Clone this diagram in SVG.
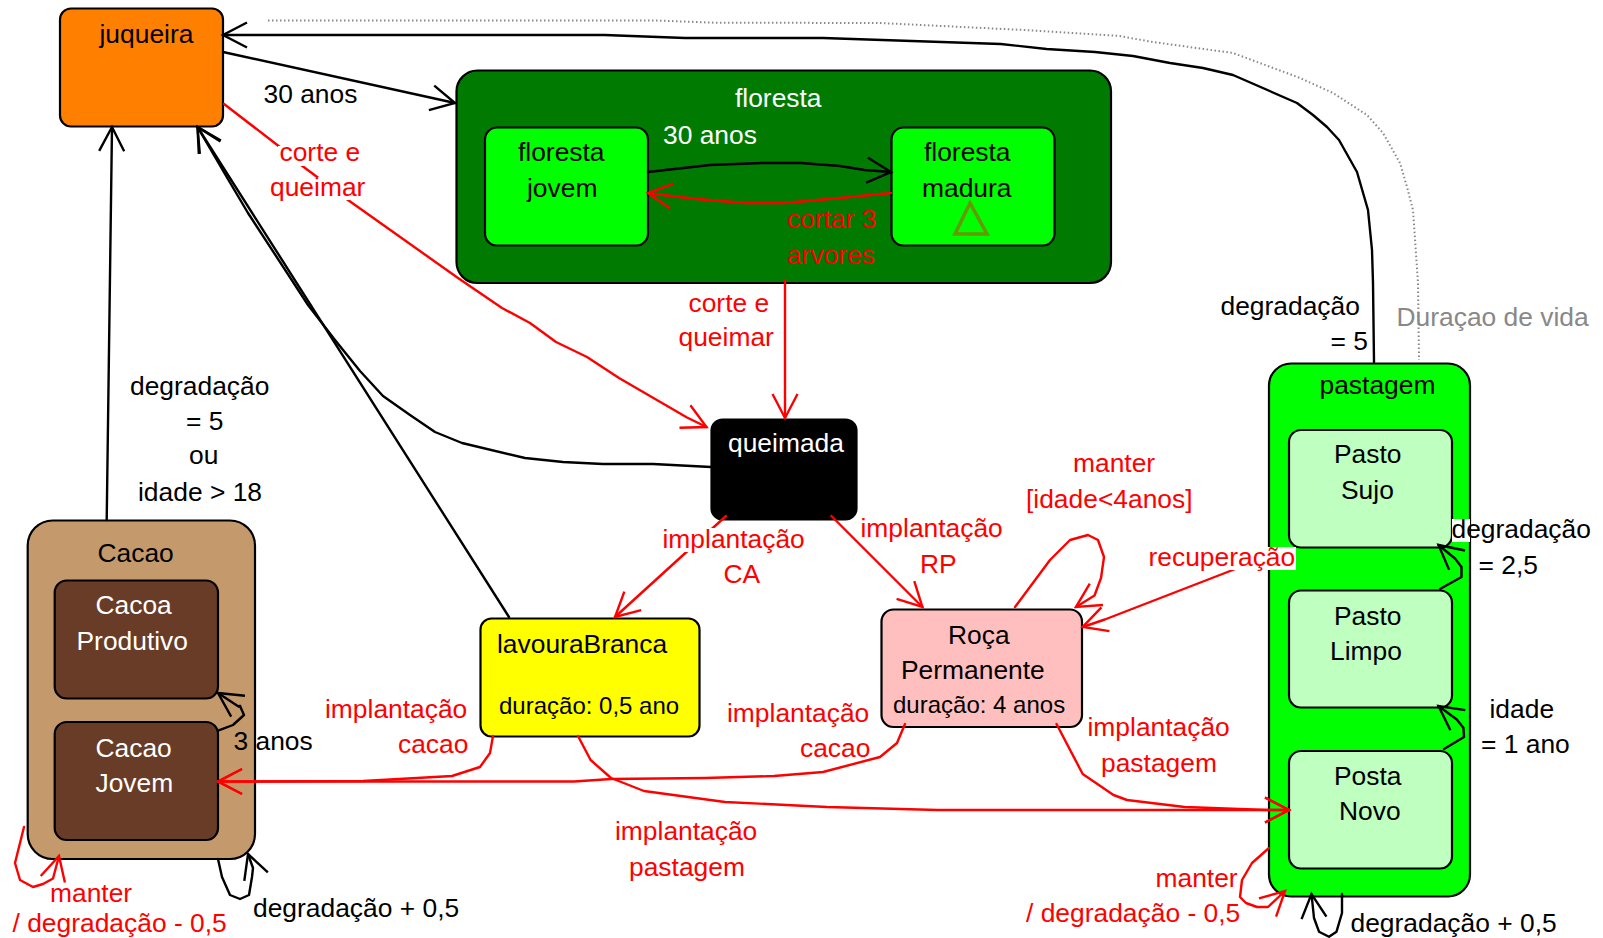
<svg xmlns="http://www.w3.org/2000/svg" width="1603" height="938" viewBox="0 0 1603 938">
<style>
text{font-family:"Liberation Sans",Arial,sans-serif;font-size:26.4px;fill:#000}
.n{stroke:#000;stroke-width:2.2}
.w{fill:#fff}.r{fill:#f00}.g{fill:#888}.s{font-size:24px}
.c{fill:none;stroke-width:2.4;stroke-linejoin:round;stroke-linecap:round}
.b{stroke:#000;marker-end:url(#ab)}
.d{stroke:#f00;marker-end:url(#ar)}
.p{stroke:#000}.q{stroke:#f00}
.dot{fill:none;stroke:#888;stroke-width:2;stroke-dasharray:1.5 2.5}
.bg{fill:#fff;stroke:none}
</style>
<defs>
<marker id="ab" markerUnits="userSpaceOnUse" viewBox="-30 -16 34 32" markerWidth="34" markerHeight="32" refX="0" refY="0" orient="auto"><path d="M-24-12.500L0 0L-24 12.500" fill="none" stroke="#000" stroke-width="2.400"/></marker>
<marker id="ar" markerUnits="userSpaceOnUse" viewBox="-30 -16 34 32" markerWidth="34" markerHeight="32" refX="0" refY="0" orient="auto"><path d="M-24-12.500L0 0L-24 12.500" fill="none" stroke="#f00" stroke-width="2.400"/></marker>
</defs>

<g id="juqueira"><rect class="n" x="60" y="8.500" width="163" height="118" rx="11" fill="#ff8000"/><text x="99.500" y="42.500">juqueira</text></g>
<g id="floresta"><rect class="n" x="456.500" y="70.500" width="654.500" height="212.500" rx="21" fill="#007a00"/><text class="w" x="735" y="107">floresta</text></g>
<g id="floresta-jovem"><rect class="n" x="485" y="127.500" width="163" height="118" rx="12" fill="#0f0"/><text x="518" y="161">floresta</text><text x="527" y="197">jovem</text></g>
<g id="floresta-madura"><rect class="n" x="891.500" y="127.500" width="163" height="118" rx="12" fill="#0f0"/><text x="924" y="161">floresta</text><text x="922" y="197">madura</text><path d="M970 203L955 234H987Z" fill="none" stroke="#669900" stroke-width="3.500"/></g>
<g id="queimada"><rect class="n" x="711.500" y="419.500" width="145" height="100" rx="11" fill="#000"/><text class="w" x="728" y="452">queimada</text></g>
<g id="lavouraBranca"><rect class="n" x="480.500" y="618.500" width="219" height="118" rx="11" fill="#ff0"/><text x="497" y="652.500">lavouraBranca</text><text class="s" x="499" y="714">duração: 0,5 ano</text></g>
<g id="roca-permanente"><rect class="n" x="881.500" y="609.500" width="200.500" height="117.500" rx="12" fill="#ffbfbf"/><text x="948" y="644">Roça</text><text x="901" y="679">Permanente</text><text class="s" x="893" y="713">duração: 4 anos</text></g>
<g id="cacao"><rect class="n" x="27.700" y="520.500" width="227.300" height="338.500" rx="25" fill="#c49a6c"/><text x="97.500" y="561.500">Cacao</text></g>
<g id="cacao-produtivo"><rect class="n" x="54.700" y="580.500" width="163.300" height="118" rx="12" fill="#693c27"/><text class="w" x="95.500" y="614">Cacoa</text><text class="w" x="76.500" y="649.500">Produtivo</text></g>
<g id="cacao-jovem"><rect class="n" x="54.700" y="722" width="163.300" height="118" rx="12" fill="#693c27"/><text class="w" x="95.500" y="757">Cacao</text><text class="w" x="95.500" y="792">Jovem</text></g>
<g id="pastagem"><rect class="n" x="1269" y="363.500" width="201" height="533" rx="22" fill="#0f0"/><text x="1319.500" y="394">pastagem</text></g>
<g id="pasto-sujo"><rect class="n" x="1289" y="430" width="163" height="117.500" rx="12" fill="#bfffbf"/><text x="1334" y="463">Pasto</text><text x="1341" y="499">Sujo</text></g>
<g id="pasto-limpo"><rect class="n" x="1289" y="590.500" width="163" height="117" rx="12" fill="#bfffbf"/><text x="1334" y="625">Pasto</text><text x="1330" y="660">Limpo</text></g>
<g id="posta-novo"><rect class="n" x="1289" y="751" width="163" height="117.500" rx="12" fill="#bfffbf"/><text x="1334" y="785">Posta</text><text x="1339" y="820">Novo</text></g>

<g id="connectors">
<path class="dot" d="M268 20.500L656 20.500L714 22.700L880 23L1024 30L1120 36L1150 41.600L1233 53L1300 78L1333 93L1367 115L1383 133L1400 163L1407 187L1413 210L1418 283L1419 360"/>
<path class="c b" d="M1374 362L1373 283L1372 250L1368 210L1357 172L1339 140L1327 127L1313 115L1297 103L1233 75L1203 68L1170 63L1133 56L1095 52L1046.600 49L1000.700 44L823 38L685 38L604.600 35L247.500 35L223 35"/>
<path class="c b" d="M223 52L455 103"/>
<path class="c d" d="M224 104L278.600 146L301 165L348 200L458 278L502 308L530 323L556 342L587 357L619 378L687 417.500L706.500 427"/>
<path class="c d" d="M785 280L785 418"/>
<path class="c b" d="M648 172L710 165L762 163L801 163L840 166L864.500 170L891 172"/>
<path class="c d" d="M891 193L840 198L784 203L745 203L697 199L671 196L648 193"/>
<path class="c b" d="M711 467L653 464L603 464L563 462L525 458L462 443L435 432L410 415L383 396L360 371L335 340L308 305L248 213L226.700 177L197.500 127"/>
<path class="c b" d="M509 617L197.500 127"/>
<path class="c b" d="M106.700 520L112 127"/>
<path class="c d" d="M726 516L615 617"/>
<path class="c d" d="M831.400 516L922.400 607"/>
<path class="c p" d="M218 730.700L233 725L244 715L240 706"/>
<path class="c b" d="M240 706L238.500 706.500L218 693"/>
<path class="c b" d="M218 859L222 877L230 895L240 899L249 895L252 877L253 868L248 854"/>
<path class="c d" d="M24 827L15 863L20 880L33 887L43 884L53 878.500L59 856"/>
<path class="c d" d="M493 736L490 753L480 767L452 776L417 778L363 781L243 781.500L218 781.500"/>
<path class="c d" d="M905 724L897 743L880 757L823 772L774 776L705 778L611 779L574 781.500L243 781.500L218 781.500"/>
<path class="c d" d="M578 736L590.600 760L611 778L644 791L725 802L786.500 805L827 807L937.600 810L1267 810L1289 810"/>
<path class="c d" d="M1056.500 724L1082.700 774L1113.500 795L1127 800L1184.600 807L1267 810L1289 810"/>
<path class="c d" d="M1015 607L1050 560L1070 540L1088 535L1098 540L1104 557L1101 578L1094.500 595.500L1076 607"/>
<path class="c d" d="M1269 555L1232.700 570L1104.800 619.500L1082.700 627"/>
<path class="c b" d="M1440 589L1461.500 577L1461.500 567L1455 558.500L1438.500 545"/>
<path class="c b" d="M1444 749L1464 737L1463.500 728L1456.800 719.500L1438.500 706"/>
<path class="c b" d="M1342 894L1342 913L1336.500 931.700L1329 936.700L1319 931.700L1314 918L1311.500 894"/>
<path class="c d" d="M1269 848L1252 863L1242 880L1240 897L1246 903L1257 907L1268 907L1285 891"/>
</g>

<g id="labels">
<text x="263.500" y="103">30 anos</text>
<text class="w" x="663" y="144">30 anos</text>
<rect class="bg" x="278" y="146" width="84" height="20"/><text class="r" x="279.500" y="160.500">corte e</text>
<rect class="bg" x="270" y="177" width="98" height="23"/><text class="r" x="270" y="195.500">queimar</text>
<text class="r" x="787" y="228">cortar 3</text><text class="r" x="787" y="264">arvores</text>
<text class="r" x="688.500" y="312">corte e</text><text class="r" x="678.500" y="346">queimar</text>
<rect class="bg" x="662" y="528" width="146" height="24"/><text class="r" x="662.500" y="548">implantação</text><text class="r" x="723.500" y="583">CA</text>
<text class="r" x="860.500" y="537">implantação</text><text class="r" x="920" y="573">RP</text>
<text class="r" x="727" y="721.500">implantação</text><text class="r" x="800" y="757">cacao</text>
<text class="r" x="615" y="840">implantação</text><text class="r" x="629" y="876">pastagem</text>
<text class="r" x="325" y="718">implantação</text><text class="r" x="398" y="752.500">cacao</text>
<text class="r" x="1087.500" y="736">implantação</text><text class="r" x="1101" y="772">pastagem</text>
<text class="r" x="1073" y="471.500">manter</text><text class="r" x="1026" y="507.500">[idade&lt;4anos]</text>
<rect class="bg" x="1149" y="547" width="147" height="23"/><text class="r" x="1148.500" y="566">recuperação</text>
<rect class="bg" x="1452" y="519" width="18" height="23"/><text x="1451.500" y="538">degradação</text><text x="1478.500" y="574">= 2,5</text>
<text x="1489.500" y="718">idade</text><text x="1481" y="752.500">= 1 ano</text>
<text x="1220.500" y="314.500">degradação</text><text x="1330.500" y="350">= 5</text>
<text class="g" x="1396.500" y="326">Duraçao de vida</text>
<text x="130" y="395">degradação</text><text x="186" y="429.500">= 5</text><text x="189" y="464">ou</text><text x="138" y="501">idade &gt; 18</text>
<text x="233.500" y="750">3 anos</text>
<text class="r" x="50" y="902">manter</text><text class="r" x="12.500" y="932">/ degradação - 0,5</text>
<text x="253" y="917">degradação + 0,5</text>
<text class="r" x="1155.500" y="887">manter</text><text class="r" x="1026" y="922">/ degradação - 0,5</text>
<text x="1350.500" y="932">degradação + 0,5</text>
</g>
</svg>
